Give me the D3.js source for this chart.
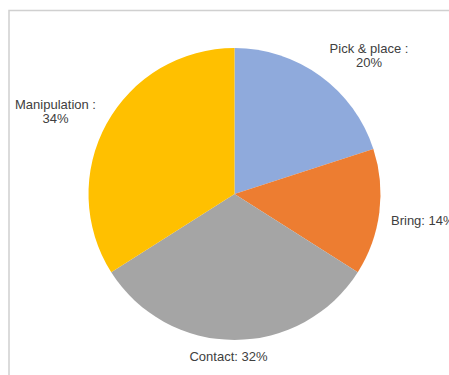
<!DOCTYPE html>
<meta charset="utf-8">
<style>
body { margin: 0; background: #fff; }
.label { font: 13px "Liberation Sans", Arial, sans-serif; fill: #404040; }
</style>
<body>
<script src="https://d3js.org/d3.v7.min.js"></script>
<script>

// slice data
var categories = ["Pick & place", "Bring", "Contact", "Manipulation"];
var values = [20, 14, 32, 34];
var colors = ["#8FAADC", "#ED7D31", "#A5A5A5", "#FFC000"];

// label text, split into lines
var labelLines = [["Pick & place :", "20%"], ["Bring: 14%"], ["Contact: 32%"], ["Manipulation :", "34%"]];

var width = 449, height = 375;
var cx = 234.5, cy = 194, radius = 146;

var svg = d3.select("body")
  .append("svg")
    .attr("width", width)
    .attr("height", height);

// chart frame
svg.append("rect")
    .attr("x", 9)
    .attr("y", 10.5)
    .attr("width", 460)
    .attr("height", 380)
    .attr("fill", "#fff")
    .attr("stroke", "#D0D0D0")
    .attr("stroke-width", 1.5);

var pie = d3.pie().sort(null).value(function(d) { return d; });
var arc = d3.arc().innerRadius(0).outerRadius(radius);

var arcs = pie(values);

var g = svg.append("g")
    .attr("transform", "translate(" + cx + "," + cy + ")");

g.selectAll("path")
    .data(arcs)
  .enter().append("path")
    .attr("d", arc)
    .attr("fill", function(d, i) { return colors[i]; });

// label anchors (absolute page positions of the first baseline)
var labelPos = [
  {x: 369, y: 53, anchor: "middle"},
  {x: 391, y: 225, anchor: "start"},
  {x: 228.5, y: 361, anchor: "middle"},
  {x: 55.5, y: 109, anchor: "middle"}
];

arcs.forEach(function(d, i) {
  var p = labelPos[i];
  var t = svg.append("text")
      .attr("class", "label")
      .attr("text-anchor", p.anchor);
  labelLines[i].forEach(function(s, j) {
    t.append("tspan")
        .attr("x", p.x)
        .attr("y", p.y + j * 14)
        .text(s);
  });
});

</script>
</body>
